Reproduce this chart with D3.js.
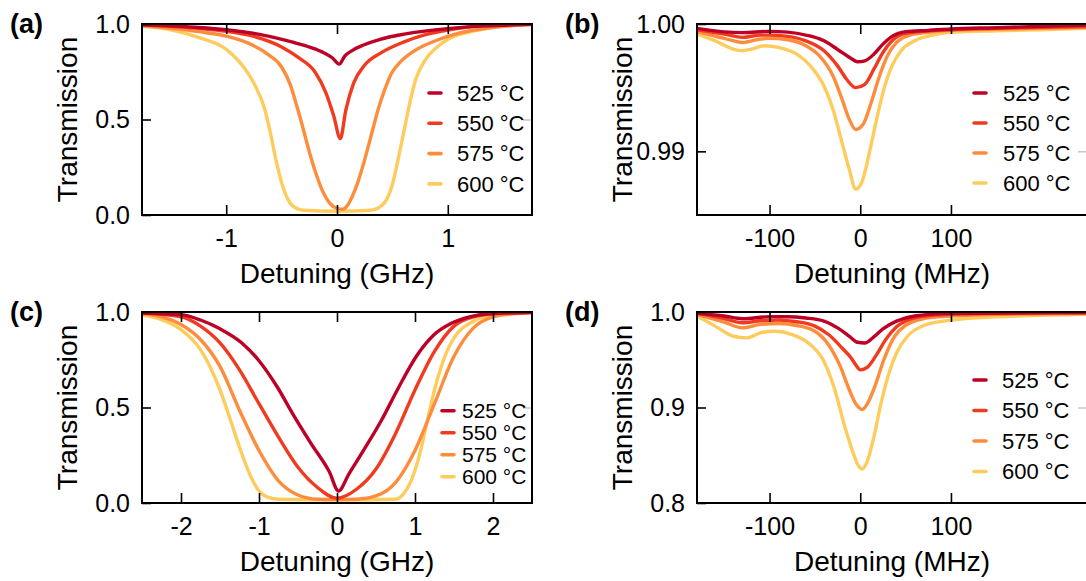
<!DOCTYPE html>
<html lang="en">
<head>
  <meta charset="UTF-8">
  <script src="https://d3js.org/d3.v7.min.js"></script>
  <title>Transmission vs detuning</title>
  <style>
    body { margin: 0; background: #fff; }
    svg text { font-family: "Liberation Sans", Arial, Helvetica, sans-serif; fill: #000; }
  </style>
</head>
<body>
  <div id="wrapper"></div>
  <script>
    const temps = ["525 °C", "550 °C", "575 °C", "600 °C"]
    const colors = ["#bd0026", "#f03b20", "#fd8d3c", "#fecc5c"]

    /* (a) detuning in GHz, transmission */
    const a525 = [[-1.76,0.997],[-1.5,0.99],[-1.25,0.982],[-1.0,0.97],[-0.7,0.946],[-0.4,0.905],[-0.24,0.878],[-0.12,0.85],[-0.04,0.822],[0.02,0.79],[0.07,0.832],[0.14,0.862],[0.24,0.89],[0.39,0.92],[0.55,0.941],[0.7,0.956],[1.0,0.976],[1.34,0.99],[1.76,0.998]]
    const a550 = [[-1.76,0.995],[-1.5,0.988],[-1.25,0.977],[-1.0,0.962],[-0.75,0.935],[-0.5,0.88],[-0.35,0.825],[-0.2,0.75],[-0.1,0.64],[-0.03,0.52],[0.03,0.4],[0.08,0.55],[0.15,0.69],[0.25,0.785],[0.4,0.85],[0.6,0.905],[0.8,0.944],[1.0,0.968],[1.3,0.99],[1.76,0.998]]
    const a575 = [[-1.76,0.99],[-1.5,0.977],[-1.25,0.96],[-1.0,0.937],[-0.8,0.9],[-0.62,0.84],[-0.5,0.775],[-0.42,0.68],[-0.36,0.565],[-0.3,0.44],[-0.24,0.31],[-0.18,0.2],[-0.13,0.125],[-0.07,0.065],[0,0.035],[0.05,0.03],[0.1,0.055],[0.14,0.1],[0.19,0.175],[0.25,0.29],[0.31,0.42],[0.37,0.55],[0.43,0.655],[0.49,0.74],[0.57,0.8],[0.7,0.86],[0.9,0.915],[1.1,0.952],[1.4,0.982],[1.76,0.998]]
    const a600 = [[-1.76,0.988],[-1.5,0.97],[-1.25,0.93],[-1.0,0.868],[-0.85,0.78],[-0.75,0.69],[-0.65,0.55],[-0.6,0.427],[-0.55,0.286],[-0.5,0.17],[-0.45,0.09],[-0.4,0.048],[-0.3,0.025],[0,0.02],[0.3,0.025],[0.4,0.048],[0.45,0.083],[0.5,0.16],[0.55,0.286],[0.6,0.427],[0.65,0.568],[0.7,0.69],[0.8,0.815],[0.9,0.877],[1.0,0.92],[1.25,0.965],[1.5,0.988],[1.76,0.999]]

    /* (b) detuning in MHz */
    const b525 = [[-180,0.99966],[-150,0.99938],[-130,0.99932],[-100,0.99942],[-80,0.99936],[-60,0.99913],[-40,0.99868],[-25,0.998],[-10,0.99729],[-3,0.99703],[5,0.9971],[15,0.99763],[25,0.99842],[35,0.99903],[50,0.9994],[75,0.9995],[100,0.99961],[150,0.99971],[200,0.99982],[250,0.99992]]
    const b550 = [[-180,0.99955],[-150,0.99921],[-130,0.99895],[-110,0.99913],[-100,0.99913],[-80,0.99903],[-60,0.99868],[-40,0.9979],[-25,0.99671],[-15,0.99566],[-5,0.995],[5,0.99526],[15,0.99645],[25,0.99776],[35,0.99868],[50,0.99926],[75,0.99945],[100,0.99955],[150,0.99966],[200,0.99974],[250,0.9998]]
    const b575 = [[-180,0.99942],[-150,0.99887],[-130,0.99855],[-110,0.99882],[-100,0.99887],[-80,0.99876],[-60,0.99829],[-45,0.9975],[-30,0.99592],[-20,0.99408],[-12,0.9925],[-5,0.99171],[3,0.9921],[12,0.99382],[20,0.99566],[30,0.9975],[40,0.99855],[55,0.99913],[75,0.99934],[100,0.9995],[150,0.9996],[200,0.99966],[250,0.99974]]
    const b600 = [[-180,0.99921],[-160,0.99868],[-140,0.99803],[-130,0.9979],[-120,0.99803],[-105,0.99829],[-90,0.99816],[-70,0.99763],[-55,0.99671],[-40,0.99513],[-30,0.99329],[-20,0.99066],[-12,0.98855],[-5,0.98703],[2,0.98763],[10,0.98987],[18,0.9925],[25,0.99461],[35,0.99671],[45,0.9979],[60,0.99868],[80,0.99913],[100,0.99934],[150,0.99947],[200,0.99955],[250,0.99966]]

    /* (c) detuning in GHz */
    const c525 = [[-2.5,0.995],[-2,0.986],[-1.75,0.958],[-1.5,0.912],[-1.22,0.838],[-1,0.745],[-0.77,0.61],[-0.55,0.455],[-0.33,0.31],[-0.1,0.165],[0.02,0.063],[0.15,0.15],[0.34,0.275],[0.57,0.433],[0.79,0.605],[1.02,0.77],[1.24,0.88],[1.46,0.94],[1.7,0.975],[2,0.992],[2.5,0.999]]
    const c550 = [[-2.5,0.995],[-2,0.975],[-1.75,0.926],[-1.5,0.838],[-1.25,0.697],[-1,0.52],[-0.75,0.345],[-0.5,0.187],[-0.25,0.081],[0,0.025],[0.25,0.072],[0.5,0.178],[0.75,0.363],[1,0.592],[1.25,0.794],[1.5,0.926],[1.75,0.975],[2,0.991],[2.5,0.999]]
    const c575 = [[-2.5,0.99],[-2.25,0.975],[-2,0.935],[-1.75,0.856],[-1.5,0.715],[-1.25,0.486],[-1,0.275],[-0.75,0.116],[-0.5,0.042],[-0.25,0.02],[0,0.018],[0.25,0.02],[0.5,0.037],[0.75,0.107],[1,0.275],[1.25,0.52],[1.5,0.768],[1.75,0.917],[2,0.975],[2.25,0.99],[2.5,0.996]]
    const c600 = [[-2.5,0.985],[-2.25,0.96],[-2,0.908],[-1.75,0.803],[-1.5,0.592],[-1.35,0.415],[-1.25,0.292],[-1.1,0.134],[-1,0.063],[-0.9,0.032],[-0.75,0.02],[0,0.017],[0.75,0.02],[0.85,0.046],[0.95,0.116],[1.05,0.24],[1.15,0.415],[1.25,0.592],[1.4,0.785],[1.5,0.864],[1.75,0.952],[2,0.982],[2.5,0.997]]

    /* (d) detuning in MHz */
    const d525 = [[-180,0.9986],[-150,0.9958],[-130,0.993],[-100,0.995],[-80,0.995],[-60,0.9937],[-40,0.9905],[-25,0.9834],[-12,0.9746],[-3,0.9683],[5,0.9676],[15,0.974],[25,0.9824],[40,0.9905],[60,0.9958],[100,0.9986],[150,0.999],[250,0.9995]]
    const d550 = [[-180,0.9986],[-150,0.993],[-130,0.9887],[-110,0.9908],[-90,0.9915],[-70,0.9898],[-50,0.9852],[-35,0.9764],[-20,0.9623],[-10,0.9518],[-5,0.9447],[0,0.9394],[8,0.9423],[18,0.9553],[28,0.9711],[40,0.9845],[55,0.9923],[80,0.9965],[100,0.9975],[150,0.9985],[250,0.9992]]
    const d575 = [[-180,0.9975],[-150,0.9894],[-130,0.9834],[-110,0.987],[-90,0.988],[-70,0.9859],[-50,0.9799],[-35,0.9658],[-22,0.943],[-12,0.9183],[-4,0.9025],[2,0.8979],[8,0.9042],[16,0.9218],[26,0.95],[38,0.9746],[50,0.9859],[70,0.993],[100,0.9958],[150,0.9975],[250,0.9985]]
    const d600 = [[-180,0.9958],[-160,0.9852],[-140,0.9746],[-125,0.9729],[-110,0.9782],[-95,0.9799],[-75,0.9764],[-55,0.9658],[-40,0.9482],[-28,0.9183],[-18,0.8831],[-10,0.8585],[-3,0.8408],[2,0.8356],[8,0.8444],[15,0.869],[22,0.9007],[30,0.9306],[40,0.957],[52,0.9746],[70,0.9859],[100,0.9915],[150,0.995],[200,0.9965],[250,0.9975]]

    const ghzTicks = [-1, 0, 1]
    const ghzTicksWide = [-2, -1, 0, 1, 2]
    const mhzTicks = [-100, 0, 100]

    const panels = [
      { tag: "(a)", left: 142, top: 24, xDomain: [-1.76, 1.76], yDomain: [0, 1], xTicks: ghzTicks, yTicks: [0, 0.5, 1], yFmt: ".1f",
        xLabel: "Detuning (GHz)", series: [a525, a550, a575, a600], legend: { x: 286, y: 69, step: 30.3, gap: 29, size: 22 } },
      { tag: "(b)", left: 697, top: 24, xDomain: [-180, 250], yDomain: [0.985, 1.0], xTicks: mhzTicks, yTicks: [0.99, 1.0], yFmt: ".2f",
        xLabel: "Detuning (MHz)", series: [b525, b550, b575, b600], legend: { x: 276, y: 69, step: 30, gap: 30, size: 22 } },
      { tag: "(c)", left: 142, top: 312, xDomain: [-2.5, 2.5], yDomain: [0, 1], xTicks: ghzTicksWide, yTicks: [0, 0.5, 1], yFmt: ".1f",
        xLabel: "Detuning (GHz)", series: [c525, c550, c575, c600], legend: { x: 299, y: 98.7, step: 22, gap: 21, size: 21 } },
      { tag: "(d)", left: 697, top: 312, xDomain: [-180, 250], yDomain: [0.8, 1.0], xTicks: mhzTicks, yTicks: [0.8, 0.9, 1.0], yFmt: ".1f",
        xLabel: "Detuning (MHz)", series: [d525, d550, d575, d600], legend: { x: 276, y: 68, step: 30.5, gap: 29, size: 22 } }
    ]

    const dims = { width: 390, height: 191, tick: 10 }

    const svg = d3.select("#wrapper")
        .append("svg")
        .attr("width", 1086)
        .attr("height", 581)

    panels.forEach((p, i) => {
      const bounds = svg.append("g")
          .attr("transform", `translate(${p.left},${p.top})`)

      const xScale = d3.scaleLinear().domain(p.xDomain).range([0, dims.width])
      const yScale = d3.scaleLinear().domain(p.yDomain).range([dims.height, 0])

      const clipId = "clip-" + i
      bounds.append("clipPath").attr("id", clipId)
        .append("rect").attr("width", dims.width).attr("height", dims.height)

      const line = d3.line()
          .x(d => xScale(d[0]))
          .y(d => yScale(d[1]))
          .curve(d3.curveMonotoneX)

      // hottest drawn first so 525 sits on top
      bounds.append("g").attr("clip-path", `url(#${clipId})`)
        .selectAll("path")
        .data(p.series.map((s, k) => ({ s, k })).reverse())
        .join("path")
          .attr("d", d => line(d.s))
          .attr("fill", "none")
          .attr("stroke", d => colors[d.k])
          .attr("stroke-width", 3.4)
          .attr("stroke-linejoin", "round")

      const plain = g => {
        g.select(".domain").remove()
        g.selectAll(".tick line").attr("stroke", "#000").attr("stroke-width", 1.6)
        g.selectAll(".tick text").style("font-size", "25px")
      }

      // axes, ticks pointing inward
      bounds.append("g")
          .attr("transform", `translate(0,${dims.height})`)
          .call(d3.axisBottom(xScale).tickValues(p.xTicks).tickSizeInner(-dims.tick).tickSizeOuter(0)
                .tickPadding(14).tickFormat(d => String(d)))
          .call(plain)

      bounds.append("g")
          .call(d3.axisTop(xScale).tickValues(p.xTicks).tickSizeInner(-dims.tick).tickSizeOuter(0).tickFormat(""))
          .call(plain)

      bounds.append("g")
          .call(d3.axisLeft(yScale).tickValues(p.yTicks).tickSizeInner(-dims.tick + 1).tickSizeOuter(0)
                .tickPadding(12).tickFormat(d3.format(p.yFmt)))
          .call(plain)

      bounds.append("g")
          .attr("transform", `translate(${dims.width},0)`)
          .call(d3.axisRight(yScale).tickValues(p.yTicks).tickSizeInner(-dims.tick + 1).tickSizeOuter(0).tickFormat(""))
          .call(g => {
            g.select(".domain").remove()
            g.selectAll(".tick line").attr("stroke", "#aaa").attr("stroke-width", 1)
          })

      bounds.append("rect")
          .attr("width", dims.width)
          .attr("height", dims.height)
          .attr("fill", "none")
          .attr("stroke", "#000")
          .attr("stroke-width", 2)

      // axis titles
      bounds.append("text")
          .attr("x", dims.width / 2)
          .attr("y", dims.height + 68)
          .attr("text-anchor", "middle")
          .style("font-size", "28px")
          .text(p.xLabel)

      bounds.append("text")
          .attr("transform", `translate(-65,${dims.height / 2}) rotate(-90)`)
          .attr("text-anchor", "middle")
          .style("font-size", "28px")
          .text("Transmission")

      bounds.append("text")
          .attr("x", -132)
          .attr("y", 9)
          .style("font-size", "27px")
          .style("font-weight", "bold")
          .text(p.tag)

      // legend
      const legend = bounds.append("g")
          .attr("transform", `translate(${p.legend.x},${p.legend.y})`)
      temps.forEach((t, k) => {
        const row = legend.append("g").attr("transform", `translate(0,${k * p.legend.step})`)
        row.append("line")
            .attr("x1", 1).attr("x2", 13)
            .attr("stroke", colors[k])
            .attr("stroke-width", 3.6)
            .attr("stroke-linecap", "round")
        row.append("text")
            .attr("x", p.legend.gap)
            .attr("dy", "0.35em")
            .style("font-size", p.legend.size + "px")
            .text(t)
      })
    })
  </script>
</body>
</html>
